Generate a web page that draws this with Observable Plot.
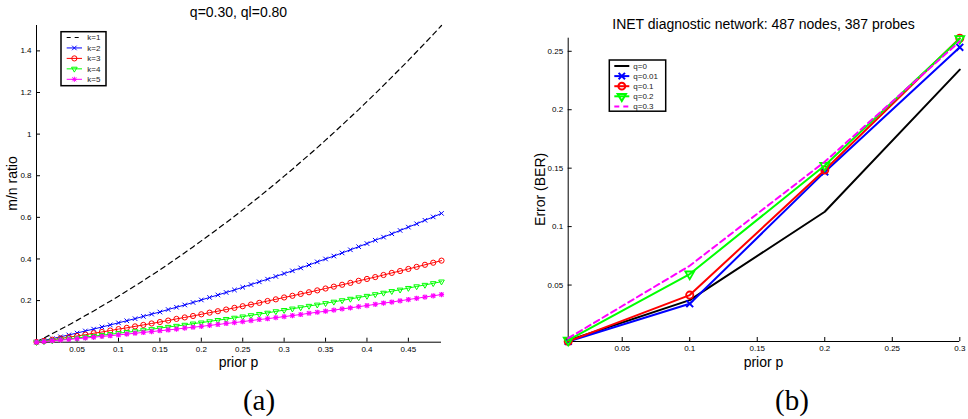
<!DOCTYPE html>
<html><head><meta charset="utf-8">
<script src="https://cdn.jsdelivr.net/npm/d3@7"></script>
<script src="https://cdn.jsdelivr.net/npm/@observablehq/plot@0.6"></script>
<style>
body{margin:0;background:#fff;}
#root{position:relative;width:968px;height:419px;overflow:hidden;background:#fff;}
#root > svg{position:absolute;top:0;}
</style></head><body><div id="root"></div>
<script>
// ---------- Panel (a) data ----------
const pA = [0.001,0.01,0.02,0.03,0.04,0.05,0.06,0.07,0.08,0.09,0.10,0.11,0.12,0.13,0.14,0.15,0.16,0.17,0.18,0.19,0.20,0.21,0.22,0.23,0.24,0.25,0.26,0.27,0.28,0.29,0.30,0.31,0.32,0.33,0.34,0.35,0.36,0.37,0.38,0.39,0.40,0.41,0.42,0.43,0.44,0.45,0.46,0.47,0.48,0.49];
const k1 = [0.002,0.020,0.041,0.062,0.083,0.105,0.128,0.150,0.174,0.197,0.221,0.246,0.271,0.296,0.322,0.348,0.375,0.402,0.430,0.458,0.487,0.516,0.545,0.575,0.605,0.636,0.668,0.699,0.732,0.764,0.798,0.831,0.866,0.900,0.935,0.971,1.007,1.044,1.081,1.118,1.157,1.195,1.234,1.274,1.314,1.354,1.396,1.437,1.479,1.522];
const k2 = [0.001,0.009,0.017,0.026,0.035,0.044,0.054,0.063,0.073,0.083,0.093,0.103,0.113,0.124,0.135,0.145,0.157,0.168,0.179,0.191,0.203,0.215,0.227,0.239,0.251,0.264,0.277,0.290,0.303,0.316,0.330,0.343,0.357,0.371,0.386,0.400,0.414,0.429,0.444,0.459,0.474,0.490,0.505,0.521,0.537,0.553,0.569,0.586,0.602,0.619];
const k3 = [0.001,0.006,0.012,0.018,0.024,0.030,0.036,0.043,0.049,0.056,0.063,0.069,0.076,0.083,0.090,0.097,0.104,0.112,0.119,0.126,0.134,0.142,0.149,0.157,0.165,0.173,0.181,0.189,0.198,0.206,0.215,0.223,0.232,0.240,0.249,0.258,0.267,0.276,0.285,0.295,0.304,0.313,0.323,0.333,0.342,0.352,0.362,0.372,0.382,0.392];
const k4 = [0.000,0.004,0.008,0.012,0.016,0.020,0.025,0.029,0.034,0.038,0.043,0.048,0.052,0.057,0.062,0.068,0.073,0.078,0.083,0.089,0.094,0.100,0.106,0.111,0.117,0.123,0.129,0.135,0.141,0.148,0.154,0.161,0.167,0.174,0.180,0.187,0.194,0.201,0.208,0.215,0.222,0.230,0.237,0.245,0.252,0.260,0.268,0.275,0.283,0.291];
const k5 = [0.000,0.003,0.007,0.010,0.013,0.017,0.020,0.024,0.028,0.031,0.035,0.039,0.043,0.047,0.051,0.055,0.059,0.063,0.068,0.072,0.076,0.081,0.085,0.090,0.094,0.099,0.104,0.109,0.113,0.118,0.123,0.128,0.133,0.139,0.144,0.149,0.154,0.160,0.165,0.171,0.176,0.182,0.188,0.193,0.199,0.205,0.211,0.217,0.223,0.229];
const seriesA = ["k=1","k=2","k=3","k=4","k=5"];
const xTicksA = [0.05,0.1,0.15,0.2,0.25,0.3,0.35,0.4,0.45];
const yTicksA = [0.2,0.4,0.6,0.8,1,1.2,1.4];
const titleA = "q=0.30, ql=0.80";
const xLabelA = "prior p";
const yLabelA = "m/n ratio";
const capA = "(a)";

// ---------- Panel (b) data ----------
const pB = [0.01,0.1,0.2,0.3];
const q0   = [0.0025,0.0371,0.1127,0.2343];
const q001 = [0.0017,0.0340,0.1468,0.2534];
const q01  = [0.0018,0.0414,0.1484,0.2612];
const q02  = [0.0028,0.0594,0.1523,0.2608];
const q03  = [0.0045,0.0665,0.1555,0.2585];
const seriesB = ["q=0","q=0.01","q=0.1","q=0.2","q=0.3"];
const xTicksB = [0.05,0.1,0.15,0.2,0.25,0.3];
const yTicksB = [0.05,0.1,0.15,0.2,0.25];
const titleB = "INET diagnostic network: 487 nodes, 387 probes";
const xLabelB = "prior p";
const yLabelB = "Error (BER)";
const capB = "(b)";

const SANS = "'Liberation Sans', Arial, Helvetica, sans-serif";
const toRows = (xs, ys) => xs.map((x, i) => ({x, y: ys[i]}));
const fmt = d => String(d);

const A = [k1,k2,k3,k4,k5].map(v => toRows(pA, v));
const B = [q0,q001,q01,q02,q03].map(v => toRows(pB, v));

const root = document.getElementById("root");

// ---------- Panel (a) ----------
const plotA = Plot.plot({
  width: 484, height: 419,
  marginLeft: 36, marginRight: 43, marginTop: 25, marginBottom: 77.3,
  x: {domain: [pA[0], pA[pA.length-1]]},
  y: {domain: [0, d3.max(k1)]},
  style: {fontFamily: SANS, fontSize: "8px", color: "#000", background: "transparent", overflow: "visible"},
  marks: [
    Plot.ruleX([pA[0]], {stroke: "#000"}),
    Plot.ruleY([0], {stroke: "#000"}),
    Plot.axisX({ticks: xTicksA, tickSize: -4, tickPadding: 8, tickFormat: fmt, label: null}),
    Plot.axisY({ticks: yTicksA, tickSize: -4, tickPadding: 9, tickFormat: fmt, label: null}),
    Plot.line(A[0], {x: "x", y: "y", stroke: "#000", strokeWidth: 1.2, strokeDasharray: "5,4"}),
    Plot.line(A[1], {x: "x", y: "y", stroke: "#0000ff", strokeWidth: 1}),
    Plot.dot(A[1], {x: "x", y: "y", symbol: "times", r: 2.2, stroke: "#0000ff", strokeWidth: 1}),
    Plot.line(A[2], {x: "x", y: "y", stroke: "#ff0000", strokeWidth: 1}),
    Plot.dot(A[2], {x: "x", y: "y", symbol: "circle", r: 2.6, stroke: "#ff0000", fill: "none", strokeWidth: 1}),
    Plot.line(A[3], {x: "x", y: "y", stroke: "#00ff00", strokeWidth: 1}),
    Plot.dot(A[3], {x: "x", y: "y", symbol: "triangle", rotate: 180, r: 2.1, stroke: "#00ff00", fill: "none", strokeWidth: 1}),
    Plot.line(A[4], {x: "x", y: "y", stroke: "#ff00ff", strokeWidth: 1}),
    Plot.dot(A[4], {x: "x", y: "y", symbol: "plus", r: 1.8, stroke: "#ff00ff", strokeWidth: 1.2}),
    Plot.dot(A[4], {x: "x", y: "y", symbol: "times", r: 2.0, stroke: "#ff00ff", strokeWidth: 1.2})
  ]
});
plotA.style.left = "0px";
root.appendChild(plotA);

// ---------- Panel (b) ----------
const allB = [q0,q001,q01,q02,q03].flat();
const plotB = Plot.plot({
  width: 484, height: 419,
  marginLeft: 83.7, marginRight: 8.7, marginTop: 37.7, marginBottom: 78,
  x: {domain: [pB[0], pB[pB.length-1]]},
  y: {domain: [d3.min(allB), d3.max(allB)]},
  style: {fontFamily: SANS, fontSize: "8px", color: "#000", background: "transparent", overflow: "visible"},
  marks: [
    Plot.ruleX([pB[0]], {stroke: "#000"}),
    Plot.ruleY([d3.min(allB)], {stroke: "#000"}),
    Plot.axisX({ticks: xTicksB, tickSize: -4, tickPadding: 8, tickFormat: fmt, label: null}),
    Plot.axisY({ticks: yTicksB, tickSize: -4, tickPadding: 9, tickFormat: fmt, label: null}),
    Plot.line(B[0], {x: "x", y: "y", stroke: "#000", strokeWidth: 2}),
    Plot.line(B[1], {x: "x", y: "y", stroke: "#0000ff", strokeWidth: 2}),
    Plot.dot(B[1], {x: "x", y: "y", symbol: "times", r: 3.2, stroke: "#0000ff", strokeWidth: 2}),
    Plot.line(B[2], {x: "x", y: "y", stroke: "#ff0000", strokeWidth: 2}),
    Plot.dot(B[2], {x: "x", y: "y", symbol: "circle", r: 3.6, stroke: "#ff0000", fill: "none", strokeWidth: 1.8}),
    Plot.line(B[3], {x: "x", y: "y", stroke: "#00ff00", strokeWidth: 2}),
    Plot.dot(B[3], {x: "x", y: "y", symbol: "triangle", rotate: 180, r: 3.3, stroke: "#00ff00", fill: "none", strokeWidth: 1.8}),
    Plot.line(B[4], {x: "x", y: "y", stroke: "#ff00ff", strokeWidth: 2, strokeDasharray: "6,4"})
  ]
});
plotB.style.left = "484px";
root.appendChild(plotB);

// ---------- Overlay: titles, axis labels, captions, legends ----------
const ov = d3.select(root).append("svg")
  .attr("width", 968).attr("height", 419)
  .style("position", "absolute").style("left", "0px").style("top", "0px")
  .style("pointer-events", "none");

function txt(x, y, s, size, opts = {}) {
  const t = ov.append("text").attr("x", x).attr("y", y).text(s)
    .attr("font-family", opts.family || SANS).attr("font-size", size)
    .attr("text-anchor", opts.anchor || "middle").attr("fill", "#000");
  if (opts.rotate) t.attr("transform", `rotate(${opts.rotate},${x},${y})`);
  return t;
}
txt(238.5, 17.3, titleA, 14);
txt(763.5, 29.3, titleB, 14);
txt(238.5, 366.7, xLabelA, 14);
txt(763.5, 366.7, xLabelB, 14);
txt(17.3, 183.5, yLabelA, 14, {rotate: -90});
txt(545, 189.4, yLabelB, 14, {rotate: -90});
txt(259, 410, capA, 29, {family: "'Liberation Serif', 'Times New Roman', serif"});
txt(792, 410, capB, 29, {family: "'Liberation Serif', 'Times New Roman', serif"});

function legend(box, rows, names, styles, lw) {
  ov.append("rect").attr("x", box.x).attr("y", box.y).attr("width", box.w).attr("height", box.h)
    .attr("fill", "#fff").attr("stroke", "#000").attr("stroke-width", 1.5);
  names.forEach((n, i) => {
    const cy = rows.y0 + i * rows.dy, st = styles[i];
    const ln = ov.append("line").attr("x1", rows.x1).attr("x2", rows.x2).attr("y1", cy).attr("y2", cy)
      .attr("stroke", st.color).attr("stroke-width", lw);
    if (st.dash) ln.attr("stroke-dasharray", st.dash);
    const cx = (rows.x1 + rows.x2) / 2;
    (st.symbols || []).forEach(([type, r, rot]) => {
      ov.append("path").attr("d", d3.symbol(type, Math.PI * r * r)())
        .attr("transform", `translate(${cx},${cy}) rotate(${rot || 0})`)
        .attr("fill", "none").attr("stroke", st.color).attr("stroke-width", lw);
    });
    txt(rows.tx, cy + 2.9, n, 8, {anchor: "start"}).attr("fill", "#222");
  });
}
legend({x: 61, y: 31.7, w: 45, h: 54},
  {y0: 37.5, dy: 10.45, x1: 66.7, x2: 82, tx: 87.3}, seriesA,
  [{color: "#000", dash: "4,4"},
   {color: "#0000ff", symbols: [[d3.symbolTimes, 2.2]]},
   {color: "#ff0000", symbols: [[d3.symbolCircle, 2.6]]},
   {color: "#00ff00", symbols: [[d3.symbolTriangle, 2.1, 180]]},
   {color: "#ff00ff", symbols: [[d3.symbolPlus, 1.8], [d3.symbolTimes, 2.0]]}], 1);
legend({x: 609.3, y: 60, w: 56.4, h: 51.2},
  {y0: 66, dy: 10.1, x1: 614.3, x2: 629.3, tx: 633.3}, seriesB,
  [{color: "#000"},
   {color: "#0000ff", symbols: [[d3.symbolTimes, 3.0]]},
   {color: "#ff0000", symbols: [[d3.symbolCircle, 3.4]]},
   {color: "#00ff00", symbols: [[d3.symbolTriangle, 3.1, 180]]},
   {color: "#ff00ff", dash: "5,4"}], 2);
</script>
</body></html>
